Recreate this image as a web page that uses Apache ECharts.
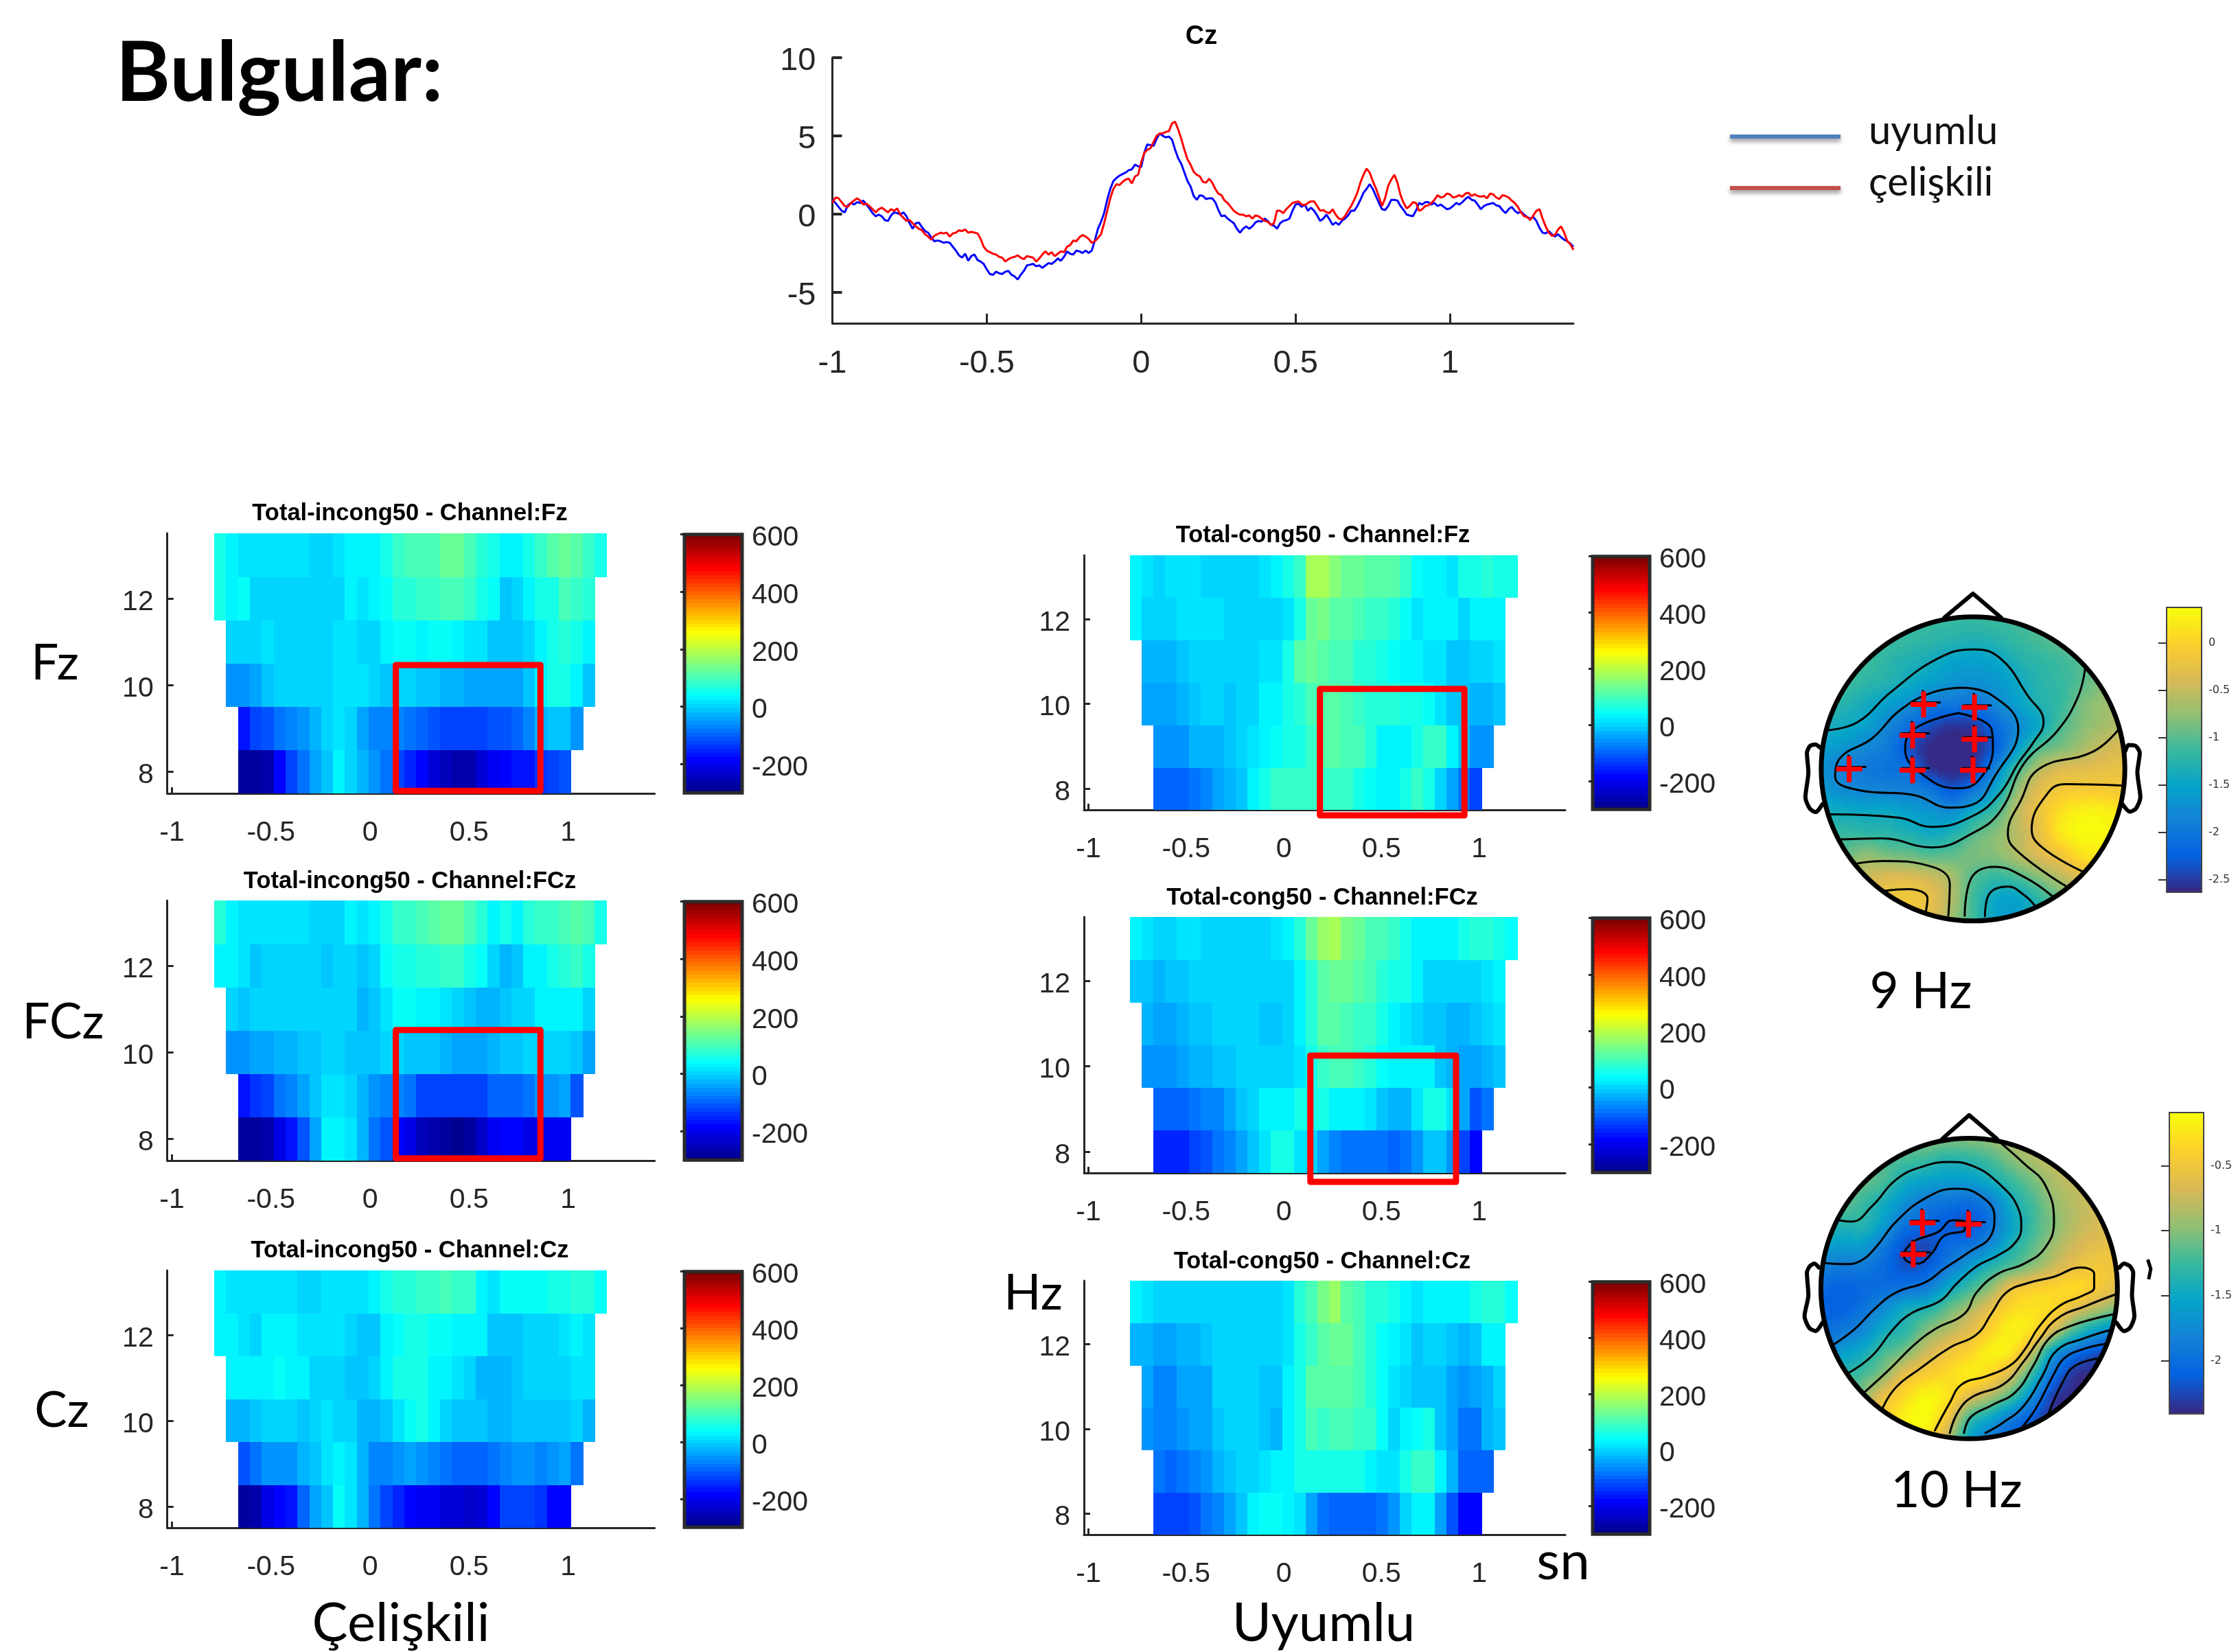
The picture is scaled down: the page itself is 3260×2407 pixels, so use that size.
<!DOCTYPE html>
<html><head><meta charset="utf-8">
<style>html,body{margin:0;padding:0;background:#fff}#c{width:3260px;height:2407px}</style>
<script src="https://cdn.jsdelivr.net/npm/echarts@6/dist/echarts.min.js"></script>
</head><body><div id="c"></div>
<script>
// ---------- ERP traces (Cz), one value every 10 ms from -1 s ----------
const uyumluCz=[.9,.7,.45,.2,.1,.55,.7,.6,.75,.7,.85,.6,.35,.05,-.15,-.05,-.15,-.4,-.45,-.1,.1,.05,-.05,.1,-.15,-.6,-.95,-.6,-.55,-.85,-1.1,-1.2,-1.5,-1.75,-1.7,-1.75,-1.85,-1.8,-1.85,-2.1,-2.35,-2.65,-2.8,-2.55,-3,-2.7,-2.6,-2.95,-3.05,-3.2,-3.55,-3.85,-3.9,-3.7,-3.8,-3.85,-3.7,-3.65,-3.9,-4,-4.2,-3.9,-3.65,-3.3,-3.25,-3.2,-3.35,-3.3,-3.45,-3.3,-3.15,-3.2,-3.05,-2.85,-3,-2.75,-2.4,-2.55,-2.6,-2.35,-2.4,-2.5,-2.35,-2.5,-2.35,-1.7,-.95,-.5,.05,.9,1.6,2.1,2.3,2.45,2.55,2.65,2.8,2.85,3.15,3.05,3,3.9,4.45,4.4,4.35,4.8,5.15,5,4.9,4.95,4.75,4.1,3.55,3.2,2.65,2.1,1.75,1.15,.9,1.2,1.15,.95,1,1,.75,.25,-.15,-.1,-.3,-.45,-.6,-.95,-1.2,-.95,-.8,-.95,-.8,-.55,-.45,-.5,-.3,-.45,-.7,-.75,-.95,-.6,-.45,-.4,-.3,.2,.6,.65,.45,.6,.2,.4,.2,-.1,-.45,-.3,-.05,-.35,-.7,-.55,-.7,-.45,-.3,-.1,.2,.2,.5,.9,1.35,1.6,1.9,1.6,1.15,.7,.3,.25,.5,.9,.9,.85,.5,.25,-.05,-.1,-.15,.2,.7,.6,.75,.75,.6,.7,.5,.6,.45,.3,.35,.5,.7,.6,.75,.95,1.1,.9,.85,.6,.3,.5,.6,.65,.7,.55,.5,.25,.05,.3,.45,.2,.05,.15,-.05,-.2,-.3,-.2,-.45,-.9,-1.2,-1.25,-1.1,-1.3,-1.45,-1.3,-1.5,-1.65,-1.75,-1.9,-2.1];
const celiskiliCz=[.7,1.05,1,.75,.5,.45,.7,.85,1,.85,.6,.65,.5,.3,.1,.3,.4,.25,.1,.3,.2,.35,-.05,-.25,-.45,-.4,-.6,-.8,-.95,-1.05,-1.3,-1.45,-1.65,-1.4,-1.3,-1.2,-1.25,-1.2,-1.45,-1.25,-1.2,-1.05,-1.1,-1,-1.2,-1.15,-1.2,-1.25,-1.6,-2.1,-2.35,-2.45,-2.55,-2.6,-2.75,-2.8,-3.05,-2.9,-2.8,-2.75,-2.65,-2.8,-2.9,-2.7,-2.75,-2.8,-3.05,-2.85,-2.6,-2.4,-2.6,-2.45,-2.7,-2.55,-2.4,-2.45,-2.1,-2,-1.7,-1.75,-1.5,-1.35,-1.45,-1.6,-1.85,-1.75,-1.55,-1.3,-.6,.2,1,1.6,1.9,1.85,2.05,2.2,2.25,1.95,2.4,2.5,3.3,3.9,4.1,4.2,4.6,5,5.15,5.15,5.25,5.3,5.8,5.9,5.4,4.8,4.1,3.5,3.15,2.7,2.5,2.4,2.05,2,2.25,2,1.6,1.3,1.2,.85,.7,.45,.2,.05,-.05,-.05,-.15,-.1,-.3,-.1,-.15,-.3,-.45,-.5,-.7,-.6,.2,.2,.05,.3,.5,.7,.75,.8,.6,.55,.7,.8,.8,.5,.2,.25,.1,.05,.3,-.05,-.3,-.35,-.15,.2,.5,.9,1.35,2,2.5,2.9,2.65,2.1,1.65,1.1,.5,1,1.8,2.2,2.5,2,1.2,.7,.35,.5,.75,.7,.2,.3,.5,.55,.7,.9,1.2,1.05,1.1,1.3,1.25,1.05,1.1,1.2,1.1,1.3,1.35,1.15,1.25,1.15,1.1,1.15,1,1.3,1.25,1.05,.95,1.2,1.15,1.05,.85,.7,.45,.1,-.15,-.2,-.4,-.1,.2,.3,-.3,-.8,-1.2,-1.4,-1.35,-1,-.8,-1.2,-1.75,-1.95,-2.3];
const timeTicks=[-1,-0.5,0,0.5,1];
const erpTicks=[-5,0,5,10];
const freqTicks=[8,10,12];
const barTicks=[-200,0,200,400,600];

// ---------- time-frequency cells, rows 8..13 Hz ----------
const incongFz=[
[-290,-290,-270,-190,-130,-90,-45,-10,35,5,-25,-60,-90,-130,-155,-190,-230,-255,-265,-265,-230,-200,-190,-170,-170,-150,-125,-120],
[-170,-130,-115,-90,-65,-55,-25,-5,15,0,-50,-65,-70,-70,-90,-105,-120,-125,-130,-130,-125,-110,-110,-100,-75,-30,-20,-20,-60],
[-55,-60,-45,-20,-5,0,0,0,5,8,8,8,-5,-15,0,-5,-20,-20,-30,-35,-40,-40,-45,-45,-40,-10,25,50,50,25,-15],
[-5,-5,5,15,5,5,-3,-5,5,15,15,5,5,35,40,45,35,40,40,35,15,10,-15,-15,-15,5,35,55,65,55,35],
[50,35,40,5,5,5,5,5,-5,-5,5,25,10,25,40,65,75,85,85,100,95,85,60,40,-10,0,30,50,60,95,90,70],
[55,30,8,8,8,8,8,8,-3,-3,8,25,25,35,55,85,95,100,105,130,130,100,70,55,30,35,60,85,110,125,120,85,60]];
const incongFCz=[
[-290,-290,-265,-215,-165,-110,-50,25,35,10,-30,-80,-110,-190,-215,-255,-270,-285,-295,-280,-240,-205,-190,-180,-215,-215,-205,-205],
[-170,-140,-125,-85,-70,-40,-20,15,15,0,-35,-55,-65,-75,-85,-125,-130,-130,-135,-135,-130,-105,-95,-95,-80,-55,-55,-50,-110],
[-60,-60,-50,-40,-25,-25,-20,-10,-3,-3,-15,-20,-15,-5,0,-10,-15,-20,-30,-40,-50,-50,-35,-20,-10,5,5,5,-5,-10,-40],
[-3,-10,-3,5,5,5,5,5,5,5,5,-25,-10,10,40,40,35,35,10,0,-15,-35,-35,-15,0,5,25,35,35,35,5],
[35,25,15,-15,5,5,5,5,5,-10,5,5,-10,-5,40,60,60,65,65,85,80,60,40,5,-30,-20,25,35,50,70,85,50],
[65,25,8,8,8,8,8,8,-5,-5,5,25,15,30,50,80,85,105,115,125,125,95,70,35,50,35,70,85,90,95,115,95,60]];
const incongCz=[
[-285,-270,-210,-185,-165,-100,-50,-10,40,20,-30,-85,-135,-155,-190,-195,-205,-225,-235,-240,-235,-190,-130,-130,-130,-150,-190,-190],
[-120,-85,-60,-60,-60,-30,-15,10,25,15,-25,-65,-65,-55,-45,-55,-65,-85,-95,-100,-100,-80,-65,-60,-60,-65,-55,-45,-90],
[-35,-35,-15,0,0,0,-10,5,20,-5,-5,-25,-25,-15,10,40,50,25,5,-15,-15,-20,-25,-25,-15,-15,-15,-15,-15,-3,-30],
[25,25,25,25,40,25,25,5,5,5,-20,-10,5,35,55,60,55,35,35,10,5,-25,-25,-25,-15,-5,-5,-5,-5,15,10],
[30,30,15,5,25,25,25,10,10,10,10,-5,-20,-10,30,40,50,50,45,45,35,35,25,-15,-20,-10,5,5,5,10,35,20],
[35,15,8,8,8,15,8,0,0,10,10,10,20,30,55,65,75,85,90,100,90,85,30,15,40,40,40,40,50,50,75,70,45]];
const congFz=[
[-100,-105,-95,-80,-65,-50,-30,-15,35,60,80,85,90,85,90,90,85,60,40,25,25,60,80,60,0,-40,-90,-125],
[-60,-60,-60,-35,-35,-25,-15,-5,10,35,45,50,60,90,110,115,100,100,70,35,30,35,60,85,85,35,-10,-60,-60],
[-40,-45,-45,-30,-10,-5,-5,-10,-5,5,30,35,55,70,100,110,110,100,90,75,70,65,60,50,40,15,-10,-15,-30,-30,-10],
[-30,-30,-25,-15,0,5,5,5,5,5,10,20,60,115,125,115,105,100,75,70,55,40,30,25,15,10,-10,-10,-5,5,15],
[25,0,0,0,10,10,10,10,-5,5,5,5,5,10,60,130,145,120,110,100,85,85,70,40,15,25,25,25,-3,25,25,25],
[35,15,0,15,15,15,5,5,-5,-5,5,20,25,50,90,185,190,150,135,135,115,115,115,80,40,25,25,10,50,50,70,60,60]];
const congFCz=[
[-160,-160,-160,-130,-115,-90,-70,-50,-15,10,55,55,20,-5,-50,-65,-80,-90,-80,-90,-95,-80,-55,-10,-20,-60,-130,-180],
[-105,-105,-105,-85,-75,-65,-40,-20,-5,30,35,35,55,55,60,35,35,30,15,-10,-25,-25,10,50,50,15,-45,-110,-90],
[-55,-60,-55,-45,-35,-30,-20,-10,0,0,0,0,5,15,55,90,100,100,85,75,45,25,25,25,25,-10,-25,-40,-40,-30,-10],
[-30,-50,-50,-30,-15,-15,-5,-3,-3,-3,-15,-15,5,35,75,110,110,100,90,80,50,30,15,-5,-15,-10,-30,-30,-20,5,15],
[-15,-15,-30,-15,-15,-5,-5,-5,-5,-5,-5,-5,-5,5,35,75,115,130,125,115,100,70,55,50,30,-5,5,5,-5,0,20,35],
[30,15,5,5,15,15,5,5,5,5,5,5,10,35,75,130,175,190,145,135,105,95,80,55,30,30,30,30,50,70,70,55,40]];
const congCz=[
[-130,-130,-130,-110,-90,-70,-40,-15,25,45,40,25,10,-40,-80,-105,-105,-100,-100,-85,-60,-5,35,35,-50,-120,-190,-180],
[-85,-105,-85,-75,-60,-30,-10,5,5,10,25,35,50,50,50,50,50,50,25,10,10,50,85,90,35,-35,-95,-95,-95],
[-55,-70,-65,-55,-45,-40,-15,-5,-5,-5,-15,-25,35,60,100,90,105,105,90,85,40,-5,35,40,60,-10,-50,-80,-80,-35,-15],
[-50,-65,-65,-50,-40,-40,-5,-5,-5,-5,-15,-15,25,50,110,110,110,110,100,75,40,15,-5,-15,-10,-10,-50,-55,-45,-30,-5],
[-25,-25,-45,-45,-30,-30,-20,-5,-5,-5,-5,-5,-5,15,55,85,110,125,125,105,70,40,30,10,-15,5,5,-20,-30,-15,35,30],
[30,10,-5,-5,5,5,5,5,5,5,5,5,5,20,65,100,145,165,120,100,75,75,60,30,10,35,35,35,35,50,65,65,40]];
const rowStartCol=[2,2,1,1,0,0];
const firstColT=-0.785, colWidthT=0.06;

// ---------- scalp maps: values read on a regular 15x15 lattice ----------
const topo9=[
[-1.1,-1.1,-1.1,-1.1,-1.12,-1.15,-1.15,-1.15,-1.12,-1.08,-1.05,-1,-.95,-.9,-.85],
[-1.05,-1.05,-1.08,-1.1,-1.15,-1.2,-1.25,-1.3,-1.25,-1.15,-1.05,-.95,-.9,-.85,-.8],
[-1.05,-1.05,-1.1,-1.2,-1.3,-1.38,-1.5,-1.55,-1.48,-1.3,-1.2,-1.1,-1,-.85,-.8],
[-1.1,-1.1,-1.2,-1.28,-1.42,-1.55,-1.68,-1.72,-1.65,-1.45,-1.25,-1.15,-.98,-.8,-.75],
[-1.15,-1.25,-1.38,-1.55,-1.72,-1.95,-2,-2.05,-1.82,-1.55,-1.3,-1.15,-.85,-.7,-.6],
[-1.35,-1.42,-1.55,-1.8,-2.1,-2.4,-2.55,-2.5,-2.15,-1.8,-1.45,-1.05,-.8,-.65,-.55],
[-1.55,-1.65,-1.8,-1.95,-2.35,-2.62,-2.63,-2.62,-2.25,-1.6,-1.05,-.85,-.65,-.45,-.35],
[-1.7,-1.9,-1.95,-2.05,-2.1,-2.55,-2.63,-2.5,-1.85,-1.1,-.6,-.35,-.3,-.25,-.2],
[-1.6,-1.75,-1.82,-1.85,-1.88,-2,-2.3,-2,-1.5,-.75,-.3,-.1,-.05,-.05,-.1],
[-1.35,-1.4,-1.45,-1.42,-1.55,-1.65,-1.72,-1.4,-1.08,-.55,-.2,.15,.3,.3,.2],
[-1.15,-1.15,-1.18,-1.22,-1.3,-1.42,-1.3,-1,-.8,-.55,-.25,.2,.37,.35,.3],
[-.95,-.95,-.75,-.85,-.9,-1,-.95,-.85,-.8,-.6,-.35,-.15,.15,.2,.2],
[-.5,-.5,-.45,-.35,-.35,-.45,-.65,-1,-1.15,-1.05,-.8,-.55,-.3,-.2,-.1],
[-.3,-.3,-.25,-.2,-.12,-.25,-.6,-1.1,-1.45,-1.5,-1.2,-.9,-.6,-.4,-.3],
[-.3,-.3,-.25,-.2,-.15,-.3,-.7,-1.1,-1.5,-1.55,-1.3,-1,-.7,-.5,-.4]];
const topo10=[
[-1,-1,-1,-1,-1,-1,-1,-1,-.95,-.85,-.75,-.7,-.7,-.7,-.7],
[-1.1,-1.1,-1.12,-1.15,-1.2,-1.25,-1.35,-1.3,-1.2,-1,-.85,-.75,-.72,-.7,-.7],
[-1.05,-1.05,-1.1,-1.2,-1.45,-1.55,-1.6,-1.6,-1.45,-1.25,-1.05,-.85,-.75,-.7,-.68],
[-1.1,-1.1,-1.25,-1.45,-1.7,-1.9,-1.95,-2,-1.85,-1.45,-1.2,-.95,-.8,-.7,-.65],
[-1.3,-1.35,-1.35,-1.6,-1.95,-2.05,-2.15,-2.2,-1.95,-1.55,-1.25,-1,-.8,-.68,-.6],
[-1.55,-1.6,-1.6,-1.9,-2.2,-2.25,-2.05,-1.95,-1.75,-1.4,-1.15,-.9,-.7,-.6,-.55],
[-1.85,-1.9,-1.9,-2.05,-2.2,-2.15,-1.88,-1.62,-1.35,-1.15,-.95,-.72,-.55,-.47,-.5],
[-2.05,-2.1,-2.05,-2,-1.95,-1.85,-1.5,-1.25,-.95,-.55,-.4,-.35,-.3,-.45,-.6],
[-2.1,-2.1,-1.95,-1.7,-1.45,-1.35,-1.1,-.85,-.55,-.3,-.25,-.35,-.65,-.85,-1.05],
[-2,-1.9,-1.75,-1.45,-1.3,-1,-.8,-.6,-.35,-.15,-.3,-.75,-1.25,-1.6,-1.8],
[-1.85,-1.6,-1.45,-1.2,-1,-.7,-.5,-.35,-.15,-.25,-.8,-1.6,-2,-2.2,-2.3],
[-1.5,-1.35,-1.2,-.95,-.55,-.4,-.3,-.2,-.35,-.7,-1.3,-2,-2.35,-2.4,-2.4],
[-1.2,-1.1,-.95,-.55,-.3,-.12,-.25,-.6,-.85,-1.2,-1.75,-2.3,-2.4,-2.4,-2.4],
[-1,-.7,-.55,-.4,-.15,-.09,-.5,-1.2,-1.5,-1.85,-2.15,-2.4,-2.4,-2.4,-2.4],
[-.6,-.5,-.4,-.3,-.2,-.2,-.8,-1.5,-1.9,-2.1,-2.3,-2.4,-2.4,-2.4,-2.4]];
const topo9Range=[-2.63,.377], topo10Range=[-2.41,-.09];
const topo9Ticks=[-2.5,-2,-1.5,-1,-.5,0], topo10Ticks=[-2,-1.5,-1,-.5];
// contour lines in scalp-map picture coordinates
const contours9=[
[[190,645],[290,610],[400,480],[560,330],[680,290],[770,330],[860,490],[915,610],[880,700],[830,790],[770,920],[680,1020],[540,1070],[430,1030],[200,1015]],
[[1055,370],[1030,500],[960,650],[850,790],[770,1000],[680,1095],[540,1160],[370,1120],[235,1125]],
[[640,458],[740,490],[830,640],[750,850],[680,970],[600,985],[480,930],[300,910],[215,850],[230,770],[340,680],[430,560],[540,480],[640,458]],
[[630,570],[740,640],[745,720],[700,860],[630,900],[530,860],[450,730],[480,640],[630,570]],
[[1165,645],[1080,740],[900,815],[840,950],[795,1100],[830,1180],[990,1330]],
[[1175,888],[990,882],[930,920],[875,1080],[910,1160],[1045,1265]],
[[290,1230],[380,1220],[540,1245],[600,1320],[595,1460]],
[[385,1350],[460,1343],[525,1385],[520,1440]],
[[650,1460],[670,1300],[750,1245],[850,1290],[945,1375]],
[[718,1462],[730,1370],[795,1332],[850,1370],[885,1415]]];
const contours10=[
[[180,628],[250,632],[300,620],[350,570],[420,470],[520,380],[620,345],[700,370],[750,450],[740,520],[660,590],[580,650],[520,700],[420,740],[350,800],[280,880],[210,938]],
[[228,465],[270,470],[340,410],[420,310],[510,260],[600,243],[680,260],[760,320],[830,420],[840,490],[820,550],[760,600],[690,640],[620,710],[570,770],[470,820],[410,880],[340,980],[262,1045]],
[[775,175],[850,250],[920,330],[950,470],[920,570],[850,630],[760,670],[690,740],[650,820],[550,880],[480,940],[400,1030],[315,1118]],
[[375,1178],[420,1100],[500,1030],[600,950],[690,900],[740,820],[790,740],[860,705],[950,680],[1040,645],[1085,670],[1085,720],[1050,750],[970,790],[900,870],[850,960],[800,1020],[720,1060],[640,1090],[600,1160],[550,1265]],
[[600,1275],[630,1190],[680,1135],[780,1090],[850,1000],[900,920],[960,840],[1060,790],[1155,748]],
[[648,1275],[670,1215],[740,1170],[820,1120],[880,1020],[930,920],[1000,870],[1155,822]],
[[720,1275],[780,1235],[850,1170],[910,1060],[960,960],[1050,915],[1142,882]],
[[845,1250],[890,1180],[950,1050],[985,990],[1050,955],[1128,935]],
[[932,1200],[980,1080],[1020,1020],[1105,990]],
[[445,590],[480,545],[560,510],[610,465],[650,470],[650,500],[580,525],[540,590],[490,630],[450,615],[445,590]]];
const crosses9=[[512,532],[683,545],[475,668],[683,685],[262,816],[475,821],[678,821]];
const crosses10=[[508,475],[663,480],[477,595]];
const nose9=[[582,150],[678,45],[772,150]], nose10=[[575,155],[665,65],[758,155]];
const earL9=[[165,722],[148,708],[130,715],[120,745],[125,830],[115,940],[130,990],[150,1005],[172,970]];
const earR9=[[1190,735],[1200,710],[1225,715],[1238,745],[1230,830],[1240,940],[1225,990],[1205,1003],[1180,970]];
const earL10=[[160,645],[145,630],[130,640],[120,665],[125,750],[112,830],[128,875],[150,887],[172,855]];
const earR10=[[1170,645],[1185,630],[1205,640],[1216,665],[1212,750],[1220,830],[1205,875],[1185,887],[1160,855]];
const stray10=[[1265,615],[1275,650],[1268,690]];

// ---------- colour scales ----------
function ramp(stops,p){p=Math.max(0,Math.min(1,p));const n=stops.length-1,k=Math.min(n-1,Math.floor(p*n)),f=p*n-k;
  const a=stops[k],b=stops[k+1];return `rgb(${[0,1,2].map(i=>Math.round(a[i]+(b[i]-a[i])*f)).join(',')})`;}
const jetStops=[[0,0,143],[0,0,255],[0,128,255],[0,255,255],[128,255,128],[255,255,0],[255,128,0],[255,0,0],[128,0,0]];
function jet(v){const lv=Math.round(Math.max(0,Math.min(1,(v+300)/900))*63)/63;return ramp(jetStops,lv);}
const parulaStops=[[53,42,135],[3,99,225],[20,129,214],[6,164,202],[56,185,158],[145,191,115],[217,186,86],[252,206,46],[249,251,14]];
function parula(p){return ramp(parulaStops,Math.round(p*63)/63);}

// ---------- option builders ----------
const grid=[],xAxis=[],yAxis=[],series=[],title=[];
const INK='#262626';
function addGrid(l,t,w,h,xa,ya){grid.push({left:l,top:t,width:w,height:h,containLabel:false});xAxis.push(Object.assign({gridIndex:grid.length-1},xa));yAxis.push(Object.assign({gridIndex:grid.length-1},ya));return grid.length-1;}
const hidden={type:'value',show:false,splitLine:{show:false}};
function label(text,x,y,size,weight,family){title.push({text,left:x,top:y,padding:0,textAlign:'center',textVerticalAlign:'middle',textStyle:{fontSize:size,fontWeight:weight||'normal',fontFamily:family||'Lato',color:'#000'}});}
function axisX(min,max,size,margin,tl,tw){return {type:'value',min,max,position:'bottom',splitLine:{show:false},
  axisLine:{onZero:false,lineStyle:{color:INK,width:3}},axisTick:{inside:true,length:tl,lineStyle:{color:INK,width:tw},customValues:timeTicks},
  axisLabel:{customValues:timeTicks,fontSize:size,fontFamily:'Liberation Sans',color:INK,margin}};}
function axisY(min,max,ticks,size,margin,tl,tw){return {type:'value',min,max,position:'left',splitLine:{show:false},
  axisLine:{onZero:false,lineStyle:{color:INK,width:3}},axisTick:{inside:true,length:tl,lineStyle:{color:INK,width:tw},customValues:ticks},
  axisLabel:{customValues:ticks,fontSize:size,fontFamily:'Liberation Sans',color:INK,margin,verticalAlign:'top',lineHeight:11}};}

// time-frequency panel
function tfPanel(name,rows,L,W,xMin,xMax,top,bottom,titleY,titleX,cbL,cbW,box){
  const g=addGrid(L,top,W,bottom-top,axisX(xMin,xMax,41,37,9,3),axisY(7.5,13.5,freqTicks,41,20,9,3));
  const cells=[];
  rows.forEach((row,r)=>row.forEach((v,i)=>{const c=rowStartCol[r]+i;cells.push([firstColT+c*colWidthT,firstColT+(c+1)*colWidthT,7.5+r,8.5+r,v]);}));
  series.push({type:'custom',name,xAxisIndex:g,yAxisIndex:g,z:2,clip:false,silent:true,encode:{x:[0,1],y:[2,3]},data:cells,
    renderItem:(p,api)=>{const a=api.coord([api.value(0),api.value(3)]),b=api.coord([api.value(1),api.value(2)]);
      return {type:'rect',shape:{x:Math.floor(a[0]),y:Math.floor(a[1]),width:Math.ceil(b[0])-Math.floor(a[0]),height:Math.ceil(b[1])-Math.floor(a[1])},style:{fill:jet(api.value(4))}};}});
  if(box){const [t0,t1,f0,f1]=box;
    series.push({type:'line',xAxisIndex:g,yAxisIndex:g,z:6,clip:false,showSymbol:false,silent:true,animation:false,
      data:[[t0,f0],[t1,f0],[t1,f1],[t0,f1],[t0,f0],[t1,f0]],lineStyle:{color:'#ff0000',width:9,join:'round',cap:'round'}});}
  label(name,titleX,titleY,34.5,'bold','Liberation Sans');
  // colour bar
  const gb=addGrid(cbL,top,cbW,bottom-top,Object.assign({},hidden,{min:0,max:1}),{type:'value',min:-302,max:604,position:'right',z:5,splitLine:{show:false},
    axisLine:{show:false},axisTick:{inside:true,length:6,lineStyle:{color:INK,width:3},customValues:barTicks},
    axisLabel:{customValues:barTicks,fontSize:41,fontFamily:'Liberation Sans',color:INK,margin:14,verticalAlign:'top',lineHeight:11}});
  colourBar(gb,-300,600,v=>jet(v),'#2b2b2b',5);
}
function colourBar(g,lo,hi,colour,border,bw){
  const levels=[];for(let k=0;k<64;k++)levels.push([lo+(hi-lo)*k/64,lo+(hi-lo)*(k+1)/64]);
  series.push({type:'custom',xAxisIndex:g,yAxisIndex:g,z:2,clip:false,silent:true,encode:{y:[0,1]},data:levels,
    renderItem:(p,api)=>{const a=api.coord([0,api.value(1)]),b=api.coord([1,api.value(0)]);
      return {type:'rect',shape:{x:a[0],y:Math.floor(a[1]),width:b[0]-a[0],height:Math.ceil(b[1])-Math.floor(a[1])},style:{fill:colour((api.value(0)+api.value(1))/2)}};}});
  series.push({type:'custom',xAxisIndex:g,yAxisIndex:g,z:3,clip:false,silent:true,data:[[lo,hi]],encode:{y:[0,1]},
    renderItem:(p,api)=>{const a=api.coord([0,api.value(1)]),b=api.coord([1,api.value(0)]);
      return {type:'rect',shape:{x:a[0],y:a[1],width:b[0]-a[0],height:b[1]-a[1]},style:{fill:'none',stroke:border,lineWidth:bw}};}});
}
// scalp map
function topoMap(mat,range,ticks,L,T,W,H,x0,dx,y0,dy,head,contours,crosses,nose,earL,earR,bar){
  const g=addGrid(L,T,W,H,Object.assign({},hidden,{min:0,max:1568}),Object.assign({},hidden,{min:0,max:1568,inverse:true}));
  const nodes=[];mat.forEach((row,j)=>row.forEach((v,i)=>nodes.push([x0+i*dx,y0+j*dy,v,i,j])));
  const SUB=7;
  const at=(i,j)=>mat[Math.min(14,Math.max(0,j))][Math.min(14,Math.max(0,i))];
  // Catmull-Rom weights: shade between the read values while drawing
  const cr=(a,b,c,d,t)=>b+.5*t*(c-a+t*(2*a-5*b+4*c-d+t*(3*(b-c)+d-a)));
  series.push({type:'custom',xAxisIndex:g,yAxisIndex:g,z:2,clip:false,silent:true,encode:{x:0,y:1},data:nodes,
    renderItem:(p,api)=>{const i=api.value(3),j=api.value(4),kids=[];
      for(let a=0;a<SUB;a++)for(let b=0;b<SUB;b++){
        const fx=(a+.5)/SUB-.5,fy=(b+.5)/SUB-.5;
        const X=x0+(i+fx)*dx,Y=y0+(j+fy)*dy;
        if(((X-head[0])/head[2])**2+((Y-head[1])/head[3])**2>1)continue;
        const ii=fx<0?i-1:i,tx=fx<0?fx+1:fx,jj=fy<0?j-1:j,ty=fy<0?fy+1:fy;
        const col=k=>cr(at(ii-1,jj+k),at(ii,jj+k),at(ii+1,jj+k),at(ii+2,jj+k),tx);
        const v=cr(col(-1),col(0),col(1),col(2),ty);
        const A=api.coord([X-dx/SUB/2,Y-dy/SUB/2]),B=api.coord([X+dx/SUB/2,Y+dy/SUB/2]);
        kids.push({type:'rect',shape:{x:A[0],y:A[1],width:B[0]-A[0]+.8,height:B[1]-A[1]+.8},style:{fill:parula((v-range[0])/(range[1]-range[0]))}});
      }
      return {type:'group',children:kids};}});
  const plain=(data,w,smooth,z)=>series.push({type:'line',xAxisIndex:g,yAxisIndex:g,z,clip:false,showSymbol:false,silent:true,smooth,data,lineStyle:{color:'#000',width:w,join:'round',cap:'round'}});
  contours.forEach(c=>plain(c,3,.45,3));
  plain(nose,6,false,4);plain(earL,6,.25,4);plain(earR,6,.25,4);
  series.push({type:'custom',xAxisIndex:g,yAxisIndex:g,z:4,clip:false,silent:true,encode:{x:0,y:1},data:[[head[0],head[1],head[2],head[3]]],
    renderItem:(p,api)=>{const c=api.coord([api.value(0),api.value(1)]),e=api.coord([api.value(0)+api.value(2),api.value(1)+api.value(3)]);
      return {type:'ellipse',shape:{cx:c[0],cy:c[1],rx:e[0]-c[0],ry:e[1]-c[1]},style:{fill:'none',stroke:'#000',lineWidth:7}};}});
  series.push({type:'custom',xAxisIndex:g,yAxisIndex:g,z:5,clip:false,silent:true,encode:{x:0,y:1},data:crosses,
    renderItem:(p,api)=>{const c=api.coord([api.value(0),api.value(1)]),r=19,K=(x1,y1,x2,y2,col,w)=>({type:'line',shape:{x1,y1,x2,y2},style:{stroke:col,lineWidth:w}});
      return {type:'group',children:[K(c[0]-r+2,c[1]-3,c[0]+r+6,c[1]-3,'#000',3),K(c[0]-1,c[1]-r-2,c[0]-1,c[1]+r-4,'#000',3),
        K(c[0]-r,c[1],c[0]+r,c[1],'#ff0000',7),K(c[0],c[1]-r,c[0],c[1]+r,'#ff0000',7)]};}});
  const gb=addGrid(bar[0],bar[1],bar[2],bar[3],Object.assign({},hidden,{min:0,max:1}),{type:'value',min:range[0],max:range[1],position:'right',z:5,splitLine:{show:false},
    axisLine:{show:false},axisTick:{inside:true,length:12,lineStyle:{color:'#333',width:2},customValues:ticks},
    axisLabel:{customValues:ticks,fontSize:16,fontFamily:'DejaVu Sans',color:'#333',margin:10}});
  colourBar(gb,range[0],range[1],v=>parula((v-range[0])/(range[1]-range[0])),'#444',2);
}

// ---------- ERP line chart ----------
const gErp=addGrid(1212.5,84,1079.5,387,axisX(-1,1.4,47,36,14,3),axisY(-7,10,erpTicks,47,24,14,4));
const stepT=0.01;
const traceBlue=uyumluCz.map((v,i)=>[-1+i*stepT,v]), traceRed=celiskiliCz.map((v,i)=>[-1+i*stepT,v]);
series.push({type:'line',name:'uyumlu',xAxisIndex:gErp,yAxisIndex:gErp,showSymbol:false,silent:true,data:traceBlue,lineStyle:{color:'#0000ff',width:3},itemStyle:{color:'#0000ff'}});
series.push({type:'line',name:'çelişkili',xAxisIndex:gErp,yAxisIndex:gErp,showSymbol:false,silent:true,data:traceRed,lineStyle:{color:'#ff0000',width:3},itemStyle:{color:'#ff0000'}});
label('Cz',1750,54,38,'bold','Liberation Sans');

// ---------- panels ----------
const LL=243.7,LW=710,RL=1579,RW=701;
tfPanel('Total-incong50 - Channel:Fz',incongFz,LL,LW,-1.0236,1.437,777,1156,748,597,997,84,[.13,.86,7.56,10.46]);
tfPanel('Total-incong50 - Channel:FCz',incongFCz,LL,LW,-1.0236,1.437,1312,1691,1284,597,997,84,[.13,.86,7.55,10.51]);
tfPanel('Total-incong50 - Channel:Cz',incongCz,LL,LW,-1.0236,1.437,1851,2226,1822,597,997,84,null);
tfPanel('Total-cong50 - Channel:Fz',congFz,RL,RW,-1.023,1.441,809,1180,780,1927,2320,83,[.185,.925,7.37,10.35]);
tfPanel('Total-cong50 - Channel:FCz',congFCz,RL,RW,-1.023,1.441,1336,1709,1308,1926,2320,83,[.136,.882,7.29,10.25]);
tfPanel('Total-cong50 - Channel:Cz',congCz,RL,RW,-1.023,1.441,1866,2236,1838,1926,2320,83,null);

topoMap(topo9,topo9Range,topo9Ticks,2580,850,680,520,170,72.86,150,95,[678,815,510,668],contours9,crosses9,nose9,earL9,earR9,[3156,885,51,415]);
topoMap(topo10,topo10Range,topo10Ticks,2580,1600,680,600,167,71.14,150,82,[665,725,498,572],contours10,crosses10,nose10,earL10,earR10,[3160,1621,50,439]);
// stray mark beside the second map
series.push({type:'line',xAxisIndex:grid.length-2,yAxisIndex:grid.length-2,z:4,clip:false,showSymbol:false,silent:true,data:stray10,lineStyle:{color:'#000',width:5}});

// ---------- free labels ----------
label('Bulgular:',407,108,121,'bold');
label('Fz',80,967,71);label('FCz',92,1490,71);label('Cz',90,2056,71);
label('Çelişkili',584,2366,78);label('Uyumlu',1928,2366,78);
label('Hz',1505,1885,71);label('sn',2277,2276,78);
label('9 Hz',2798,1445,73);label('10 Hz',2850,2172,73);

const legend={orient:'vertical',left:2515,top:157,itemWidth:161,itemHeight:6,itemGap:17,icon:'rect',silent:true,selectedMode:false,
  formatter:'{t|{name}}',
  textStyle:{rich:{t:{fontFamily:'Lato',fontSize:58,color:'#111',padding:[0,0,16,36]}}},
  data:[{name:'uyumlu',itemStyle:{color:'#4f81bd',shadowBlur:6,shadowOffsetY:4,shadowColor:'rgba(0,0,0,.45)'}},
        {name:'çelişkili',itemStyle:{color:'#c0504d',shadowBlur:6,shadowOffsetY:4,shadowColor:'rgba(0,0,0,.45)'}}]};

const chart=echarts.init(document.getElementById('c'),null,{renderer:'canvas',width:3260,height:2407});
chart.setOption({animation:false,backgroundColor:'#fff',title,legend,grid,xAxis,yAxis,series});
</script></body></html>
